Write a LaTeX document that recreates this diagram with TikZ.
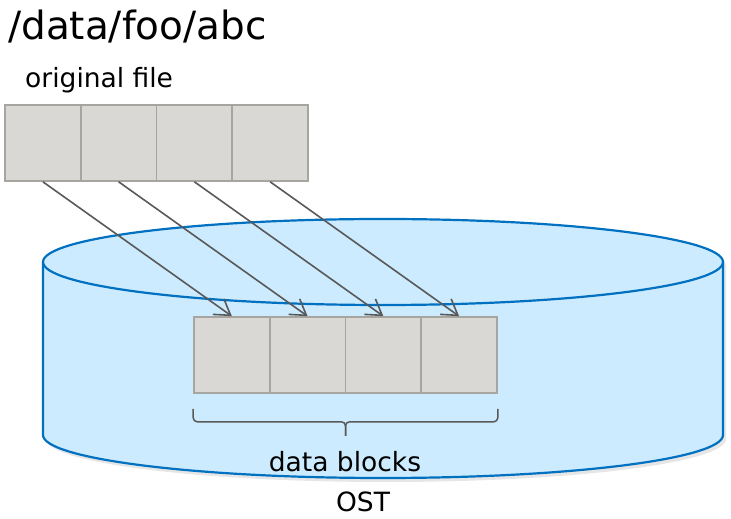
\documentclass[tikz,border=0pt]{standalone}
\usepackage{fontspec}
\setmainfont{DejaVu Sans}
\usetikzlibrary{arrows.meta,shadows,calc}
\definecolor{blocfond}{HTML}{D9D8D4}
\definecolor{blocbord}{HTML}{A6A5A0}
\definecolor{cylfond}{HTML}{CCEBFE}
\definecolor{cylbord}{HTML}{0070C0}
\definecolor{flechecol}{HTML}{595959}
\begin{document}
\begin{tikzpicture}[x=1pt,y=1pt,
  bloc/.style={draw=blocbord, fill=blocfond, line width=1.6pt,
    minimum width=75.75pt, minimum height=76pt, inner sep=0pt},
  fleche/.style={draw=flechecol, line width=1.6pt,
    -{Straight Barb[length=15pt,width=19pt]}},
  cyl/.style={draw=cylbord, line width=2.2pt},
  texte/.style={font=\fontsize{26.5}{30}\selectfont, inner sep=0pt}]
  % Parametres du cylindre
  \def\cx{383} % centre
  \def\rx{340} % demi-axe horizontal
  \def\ry{43} % demi-axe vertical
  \def\yh{257} % ellipse du haut
  \def\yb{84} % ellipse du bas
  \useasboundingbox (0,0) rectangle (731,519);

  % Corps du cylindre (OST)
  \fill[cylfond, drop shadow={opacity=.2, shadow xshift=3pt, shadow yshift=-4pt}]
    (\cx-\rx,\yh) -- (\cx-\rx,\yb)
    arc[start angle=180, end angle=360, x radius=\rx, y radius=\ry]
    -- (\cx+\rx,\yh)
    arc[start angle=0, end angle=180, x radius=\rx, y radius=\ry] -- cycle;
  \draw[cyl] (\cx-\rx,\yh) -- (\cx-\rx,\yb)
    arc[start angle=180, end angle=360, x radius=\rx, y radius=\ry]
    -- (\cx+\rx,\yh);
  \draw[cyl] (\cx,\yh) ellipse [x radius=\rx, y radius=\ry];

  % Titres
  \node[anchor=base west, inner sep=0pt, font=\fontsize{38.9}{44}\selectfont] (titre) at (8,479) {/data/foo/abc};
  \node[texte, anchor=base west] (orig) at (25,431) {original file};

  % Blocs du fichier et blocs de donnees
  \foreach \i in {1,...,4} {
    \node[bloc] (f\i) at ({5+75.75*(\i-0.5)},376) {};
    \node[bloc] (b\i) at ({194+75.75*(\i-0.5)},164) {};
  }

  % Fleches
  \foreach \i in {1,...,4}
    \draw[fleche] (f\i.south) -- (b\i.north);

  % Accolade
  \coordinate (ag) at ([yshift=-15pt]b1.south west);
  \coordinate (ad) at ([yshift=-15pt]b4.south east);
  \coordinate (pointe) at ($(ag)!.5!(ad)+(0,-27)$);
  \draw[flechecol, line width=1.5pt, rounded corners=4pt]
    (ag) -- ++(0,-13) -| (pointe);
  \draw[flechecol, line width=1.5pt, rounded corners=4pt]
    (ad) -- ++(0,-13) -| (pointe);

  \node[texte, anchor=base] (blocs) at (345,47) {data blocks};
  \node[texte, anchor=base] (ost) at (363,7) {OST};
\end{tikzpicture}
\end{document}
